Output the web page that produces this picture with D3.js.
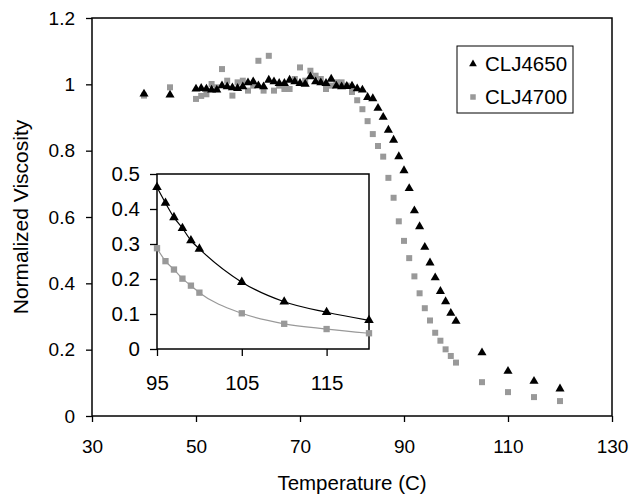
<!DOCTYPE html>
<html lang="en">
<head>
<meta charset="UTF-8">
<title>Normalized Viscosity vs Temperature</title>
<style>
    body {
        margin: 0;
        background: #fff;
    }
    svg text {
        font-family: "Liberation Sans", Arial, sans-serif;
        fill: #000;
    }
</style>
</head>
<body>
<div id="chart"></div>
<script src="https://d3js.org/d3.v7.min.js"></script>
<script>
// data
const seriesNames = ["CLJ4650", "CLJ4700"];
const temps = [40, 45, 50, 51, 52, 53, 54, 55, 56, 57, 58, 59, 60, 61, 62, 63, 64, 65, 66, 67, 68, 69,
               70, 71, 72, 73, 74, 75, 76, 77, 78, 79, 80, 81, 82, 83, 84, 85, 86, 87, 88, 89,
               90, 91, 92, 93, 94, 95, 96, 97, 98, 99, 100, 105, 110, 115, 120];
const viscCLJ4650 = [0.971, 0.968, 0.986, 0.988, 0.986, 0.983, 0.983, 0.996, 0.993, 0.990, 0.988, 0.993,
                     1.005, 1.008, 0.996, 0.993, 1.013, 1.008, 1.003, 1.003, 1.013, 1.008,
                     1.003, 1.001, 1.023, 1.008, 1.005, 1.003, 1.016, 0.995, 0.993, 0.994, 0.995, 0.987,
                     0.983, 0.961, 0.957, 0.928, 0.901, 0.862, 0.832, 0.782,
                     0.740, 0.686, 0.619, 0.571, 0.509, 0.462, 0.417, 0.376, 0.345, 0.310, 0.286,
                     0.191, 0.135, 0.105, 0.082];
const viscCLJ4700 = [0.966, 0.991, 0.956, 0.965, 0.970, 1.001, 0.991, 1.046, 1.011, 0.966, 1.006, 1.011,
                     0.981, 0.996, 1.071, 0.981, 1.086, 0.981, 0.996, 0.986, 0.986, 1.016,
                     1.051, 1.011, 1.041, 1.026, 1.016, 0.986, 0.996, 1.006, 1.006, 0.996, 0.977, 0.952,
                     0.925, 0.889, 0.850, 0.814, 0.782, 0.718, 0.658, 0.587,
                     0.528, 0.476, 0.421, 0.370, 0.325, 0.288, 0.251, 0.227, 0.201, 0.181, 0.161,
                     0.102, 0.072, 0.057, 0.045];
const xTicks = [30, 50, 70, 90, 110, 130];
const yTicks = [0, 0.2, 0.4, 0.6, 0.8, 1, 1.2];
const insetXTicks = [95, 105, 115];
const insetYTicks = [0, 0.1, 0.2, 0.3, 0.4, 0.5];
const insetStart = 95; // inset shows the tail from this temperature

const width = 643, height = 495;
const colors = ["#000000", "#999999"];

const svg = d3.select("#chart").append("svg")
    .attr("width", width)
    .attr("height", height);

// main scales
const x = d3.scaleLinear().domain([30, 130]).range([92, 612]);
const y = d3.scaleLinear().domain([0, 1.2]).range([416, 18]);

const series = seriesNames.map((name, i) => ({
    name,
    color: colors[i],
    shape: i === 0 ? d3.symbolTriangle : d3.symbolSquare,
    size: i === 0 ? 36 : 36,
    points: temps.map((t, j) => ({t, v: (i === 0 ? viscCLJ4650 : viscCLJ4700)[j]}))
}));

// axes
const yAxis = svg.append("g")
    .attr("transform", `translate(${x.range()[0]},0)`)
    .call(d3.axisLeft(y).tickValues(yTicks).tickSize(6).tickPadding(11).tickFormat(d => d));
yAxis.select(".domain").remove();
yAxis.selectAll("text").attr("font-size", 19).attr("font-family", null);
yAxis.selectAll("line").attr("stroke-width", 1.3);

const xAxis = svg.append("g")
    .attr("transform", `translate(0,${y.range()[0]})`)
    .call(d3.axisBottom(x).tickValues(xTicks).tickSize(6).tickPadding(18));
xAxis.select(".domain").remove();
xAxis.selectAll("text").attr("font-size", 19).attr("font-family", null);
xAxis.selectAll("line").attr("stroke-width", 1.3);

// plot frame
svg.append("rect")
    .attr("x", x.range()[0])
    .attr("y", y.range()[1])
    .attr("width", x.range()[1] - x.range()[0])
    .attr("height", y.range()[0] - y.range()[1])
    .attr("fill", "none")
    .attr("stroke", "#000")
    .attr("stroke-width", 1.5);

// axis titles
svg.append("text")
    .attr("x", (x.range()[0] + x.range()[1]) / 2)
    .attr("y", 490)
    .attr("text-anchor", "middle")
    .attr("font-size", 20.5)
    .text("Temperature (C)");

svg.append("text")
    .attr("transform", `translate(28,${(y.range()[0] + y.range()[1]) / 2}) rotate(-90)`)
    .attr("text-anchor", "middle")
    .attr("font-size", 21)
    .text("Normalized Viscosity");

// main markers (grey first so black triangles sit on top)
series.slice().reverse().forEach(s => {
    svg.append("g").selectAll("path")
        .data(s.points)
        .join("path")
        .attr("transform", d => `translate(${x(d.t)},${y(d.v)})`)
        .attr("d", d3.symbol().type(s.shape).size(s.size))
        .attr("fill", s.color);
});

// legend
const legend = svg.append("g");
legend.append("rect")
    .attr("x", 457).attr("y", 46)
    .attr("width", 116).attr("height", 67)
    .attr("fill", "#fff")
    .attr("stroke", "#000")
    .attr("stroke-width", 1);
series.forEach((s, i) => {
    const cy = 64 + i * 33;
    legend.append("path")
        .attr("transform", `translate(473,${cy})`)
        .attr("d", d3.symbol().type(s.shape).size(i === 0 ? 26 : 30))
        .attr("fill", s.color);
    legend.append("text")
        .attr("x", 485)
        .attr("y", cy + 6.5)
        .attr("font-size", 20.5)
        .text(s.name);
});

// inset
const ix = d3.scaleLinear().domain([95, 120]).range([157, 369]);
const iy = d3.scaleLinear().domain([0, 0.5]).range([349, 174]);
const inset = svg.append("g");

inset.append("rect")
    .attr("x", ix.range()[0])
    .attr("y", iy.range()[1])
    .attr("width", ix.range()[1] - ix.range()[0])
    .attr("height", iy.range()[0] - iy.range()[1])
    .attr("fill", "#fff")
    .attr("stroke", "#000")
    .attr("stroke-width", 1.5);

const iyAxis = inset.append("g")
    .attr("transform", `translate(${ix.range()[0]},0)`)
    .call(d3.axisLeft(iy).tickValues(insetYTicks).tickSize(7).tickPadding(10).tickFormat(d => d));
iyAxis.select(".domain").remove();
iyAxis.selectAll("text").attr("font-size", 20.5).attr("font-family", null);
iyAxis.selectAll("line").attr("stroke-width", 1.3);

const ixAxis = inset.append("g")
    .attr("transform", `translate(0,${iy.range()[0]})`)
    .call(d3.axisBottom(ix).tickValues(insetXTicks).tickSize(7).tickPadding(19));
ixAxis.select(".domain").remove();
ixAxis.selectAll("text").attr("font-size", 20.5).attr("font-family", null);
ixAxis.selectAll("line").attr("stroke-width", 1.3);

const insetLine = d3.line()
    .x(d => ix(d.t))
    .y(d => iy(d.v))
    .curve(d3.curveMonotoneX);

series.slice().reverse().forEach(s => {
    const tail = s.points.filter(d => d.t >= insetStart);
    inset.append("path")
        .datum(tail)
        .attr("d", insetLine)
        .attr("fill", "none")
        .attr("stroke", s.color)
        .attr("stroke-width", 1.2);
    inset.append("g").selectAll("path")
        .data(tail)
        .join("path")
        .attr("transform", d => `translate(${ix(d.t)},${iy(d.v)})`)
        .attr("d", d3.symbol().type(s.shape).size(s.size + 4))
        .attr("fill", s.color);
});
</script>
</body>
</html>
